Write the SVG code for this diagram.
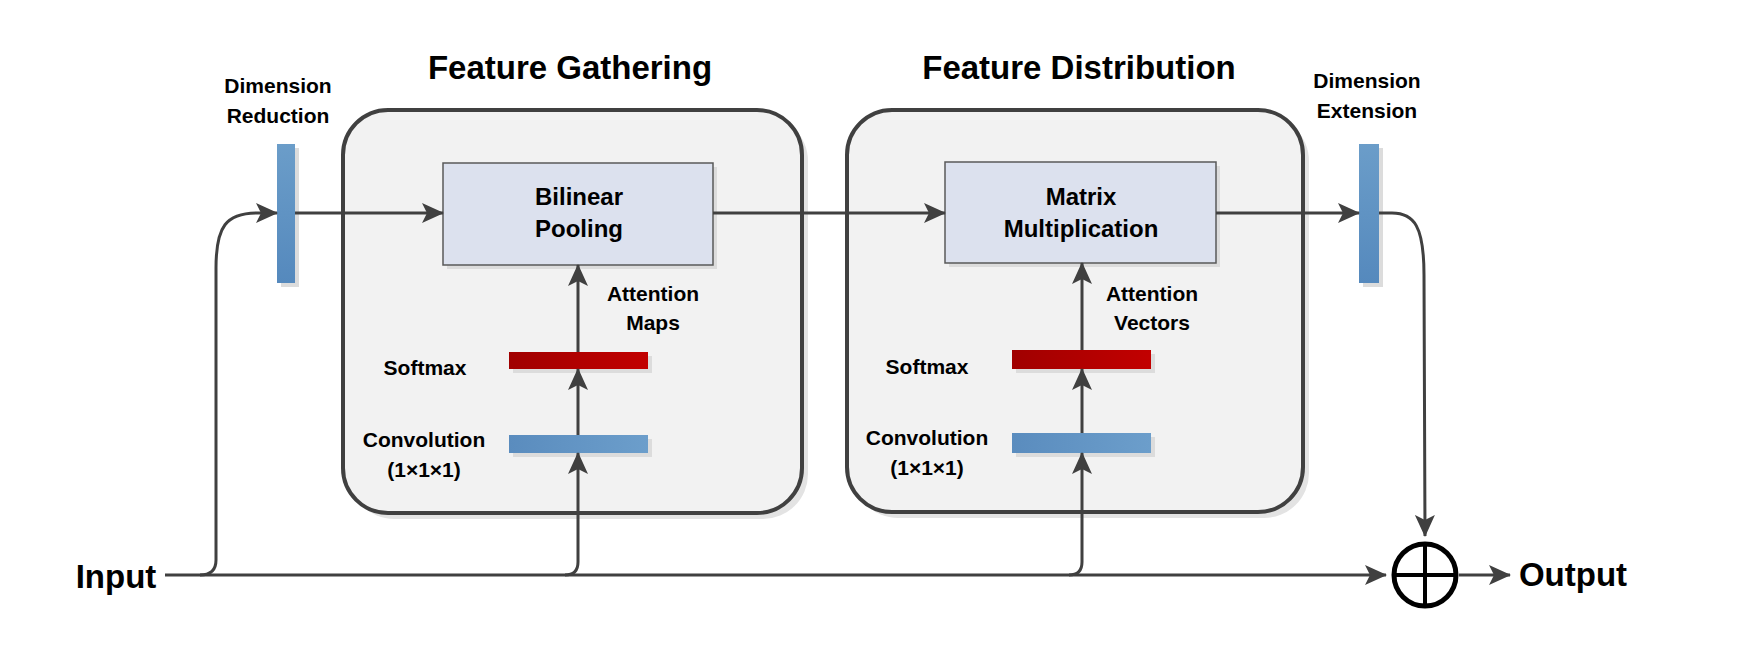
<svg xmlns="http://www.w3.org/2000/svg" width="1749" height="648" viewBox="0 0 1749 648">
<defs>
<linearGradient id="gBlueV" x1="0" y1="0" x2="0" y2="1"><stop offset="0" stop-color="#6b9dc9"/><stop offset="1" stop-color="#5589bd"/></linearGradient>
<linearGradient id="gBlueH" x1="0" y1="0" x2="1" y2="0"><stop offset="0" stop-color="#5a8cbe"/><stop offset="1" stop-color="#6c9ecb"/></linearGradient>
<linearGradient id="gRed" x1="0" y1="0" x2="1" y2="0"><stop offset="0" stop-color="#a00000"/><stop offset="1" stop-color="#c20000"/></linearGradient>
<marker id="arr" markerUnits="userSpaceOnUse" viewBox="0 0 22 20" refX="21" refY="10" markerWidth="22" markerHeight="20" orient="auto"><path d="M0,0 L22,10 L0,20 L5,10 Z" fill="#404040"/></marker>
<style>
.lbl{font-family:"Liberation Sans",Arial,sans-serif;font-weight:bold;fill:#000;text-anchor:middle}
.big{fill:#f2f2f2;stroke:#404040;stroke-width:4}
.bigsh{fill:#e3e3e3}
.op{fill:#dce1ee;stroke:#595959;stroke-width:1.5}
.sh{fill:#dcdcdc}
.ln{fill:none;stroke:#404040;stroke-width:3}
</style>
</defs>
<rect width="1749" height="648" fill="#fff"/>

<g id="feature-gathering">
<rect class="bigsh" x="349" y="116" width="459" height="403" rx="45"/>
<rect class="big" x="343" y="110" width="459" height="403" rx="45"/>
<text class="lbl" x="570" y="79" font-size="33">Feature Gathering</text>
</g>
<g id="feature-distribution">
<rect class="bigsh" x="853" y="116" width="456" height="402" rx="45"/>
<rect class="big" x="847" y="110" width="456" height="402" rx="45"/>
<text class="lbl" x="1079" y="79" font-size="33">Feature Distribution</text>
</g>

<g id="dim-reduction">
<rect class="sh" x="281" y="148" width="18" height="139"/>
<rect x="277" y="144" width="18" height="139" fill="url(#gBlueV)"/>
<text class="lbl" x="278" y="93" font-size="21">Dimension</text>
<text class="lbl" x="278" y="123" font-size="21">Reduction</text>
</g>
<g id="bilinear-pooling">
<rect class="sh" x="447" y="167" width="270" height="102"/>
<rect class="op" x="443" y="163" width="270" height="102"/>
<text class="lbl" x="579" y="205" font-size="24">Bilinear</text>
<text class="lbl" x="579" y="237" font-size="24">Pooling</text>
</g>
<g id="softmax-1">
<rect class="sh" x="513" y="356" width="139" height="17"/>
<rect x="509" y="352" width="139" height="17" fill="url(#gRed)"/>
<text class="lbl" x="425" y="375" font-size="21">Softmax</text>
</g>
<g id="conv-1">
<rect class="sh" x="513" y="439" width="139" height="18"/>
<rect x="509" y="435" width="139" height="18" fill="url(#gBlueH)"/>
<text class="lbl" x="424" y="447" font-size="21">Convolution</text>
<text class="lbl" x="424" y="477" font-size="21">(1×1×1)</text>
</g>
<g id="attention-maps-label">
<text class="lbl" x="653" y="301" font-size="21">Attention</text>
<text class="lbl" x="653" y="330" font-size="21">Maps</text>
</g>

<g id="matrix-multiplication">
<rect class="sh" x="949" y="166" width="271" height="101"/>
<rect class="op" x="945" y="162" width="271" height="101"/>
<text class="lbl" x="1081" y="205" font-size="24">Matrix</text>
<text class="lbl" x="1081" y="237" font-size="24">Multiplication</text>
</g>
<g id="softmax-2">
<rect class="sh" x="1016" y="354" width="139" height="19"/>
<rect x="1012" y="350" width="139" height="19" fill="url(#gRed)"/>
<text class="lbl" x="927" y="374" font-size="21">Softmax</text>
</g>
<g id="conv-2">
<rect class="sh" x="1016" y="437" width="139" height="20"/>
<rect x="1012" y="433" width="139" height="20" fill="url(#gBlueH)"/>
<text class="lbl" x="927" y="445" font-size="21">Convolution</text>
<text class="lbl" x="927" y="475" font-size="21">(1×1×1)</text>
</g>
<g id="attention-vectors-label">
<text class="lbl" x="1152" y="301" font-size="21">Attention</text>
<text class="lbl" x="1152" y="330" font-size="21">Vectors</text>
</g>

<g id="dim-extension">
<rect class="sh" x="1363" y="148" width="20" height="139"/>
<rect x="1359" y="144" width="20" height="139" fill="url(#gBlueV)"/>
<text class="lbl" x="1367" y="88" font-size="21">Dimension</text>
<text class="lbl" x="1367" y="118" font-size="21">Extension</text>
</g>

<g id="input">
<text class="lbl" x="116" y="588" font-size="33">Input</text>
</g>
<g id="sum">
<circle cx="1425" cy="575" r="31" fill="#fff" stroke="#000" stroke-width="5"/>
<line x1="1394" y1="575" x2="1456" y2="575" stroke="#000" stroke-width="4"/>
<line x1="1425" y1="544" x2="1425" y2="606" stroke="#000" stroke-width="4"/>
</g>
<g id="output">
<text class="lbl" x="1573" y="586" font-size="33">Output</text>
</g>

<g id="connectors">
<path class="ln" d="M165,575 L1386,575" marker-end="url(#arr)"/>
<path class="ln" d="M200,575 Q216,575 216,560 L216,268 C216,226 226,213 258,213 L277,213" marker-end="url(#arr)"/>
<path class="ln" d="M295,213 L443,213" marker-end="url(#arr)"/>
<path class="ln" d="M565,575 Q578,575 578,562 L578,453" marker-end="url(#arr)"/>
<path class="ln" d="M578,435 L578,369" marker-end="url(#arr)"/>
<path class="ln" d="M578,352 L578,265" marker-end="url(#arr)"/>
<path class="ln" d="M713,213 L945,213" marker-end="url(#arr)"/>
<path class="ln" d="M1069,575 Q1082,575 1082,562 L1082,453" marker-end="url(#arr)"/>
<path class="ln" d="M1082,433 L1082,369" marker-end="url(#arr)"/>
<path class="ln" d="M1082,350 L1082,263" marker-end="url(#arr)"/>
<path class="ln" d="M1216,213 L1359,213" marker-end="url(#arr)"/>
<path class="ln" d="M1379,213 L1392,213 C1414,213 1424,226 1424,275 L1425,536" marker-end="url(#arr)"/>
<path class="ln" d="M1459,575 L1510,575" marker-end="url(#arr)"/>
</g>
</svg>
